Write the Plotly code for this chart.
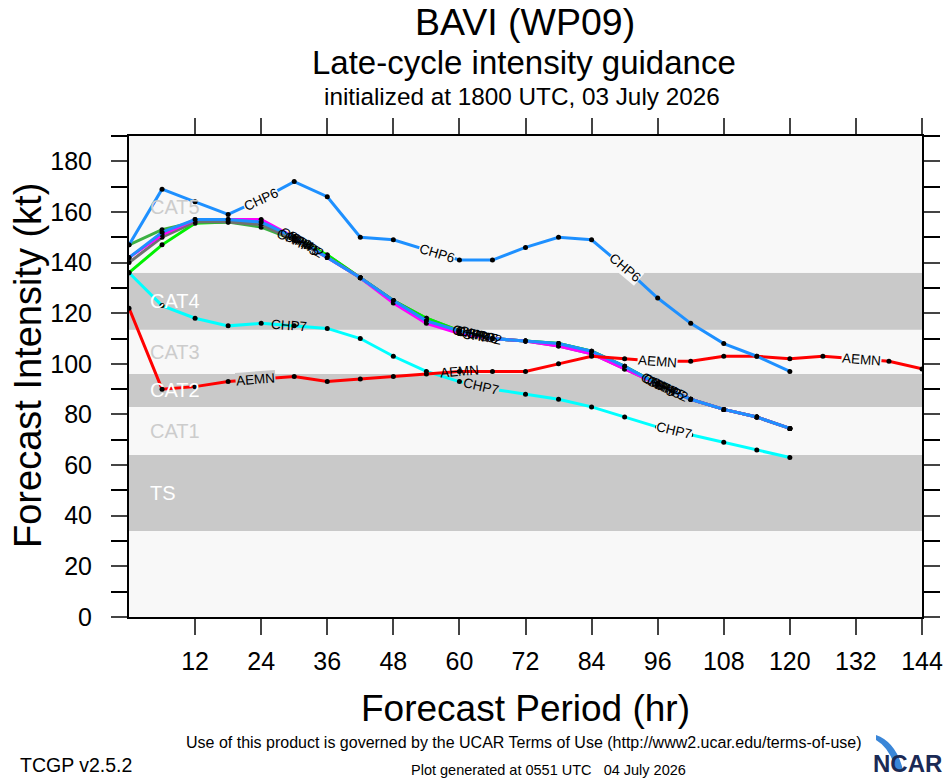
import numpy as np
import plotly.graph_objects as go

# ---------------- data ----------------
hours = list(range(0, 145, 6))           # forecast hours 0..144
hours120 = hours[:21]                     # 0..120

chp6 = [147, 169, 164, 159, 165, 172, 166, 150, 149, 145, 141, 141, 146, 150, 149, 138, 126, 116, 108, 103, 97]
chp7 = [136, 123, 118, 115, 116, 115, 114, 110, 103, 97, 93, 90, 88, 86, 83, 79, 75, 72, 69, 66, 63]
aemn = [122, 90, 91, 93, 94, 95, 93, 94, 95, 96, 97, 97, 97, 100, 103, 102, 101, 101, 103, 103, 102, 103, 102, 101, 98]

clus_lime = [136, 147, 155.5, 156, 156, 150, 143, 134, 125, 118, 113, 110, 109, 108, 105, 99, 92, 86, 82, 79, 74.5]
clus_gray = [140, 150, 156, 156, 155, 149, 142, 134, 125, 117, 113, 110, 109, 107, 104, 98, 92, 86, 82, 79, 74.5]
clus_mag = [142, 151, 157, 157, 157, 150, 142, 134, 124, 116, 112, 110, 109, 107, 104, 98, 92, 86, 82, 79, 74.5]
clus_dgrn = [147, 153, 156, 156, 154, 149, 143, 134, 125, 118, 113, 110, 109, 108, 105, 99, 92, 86, 82, 79, 74.5]
clus_blue = [142, 152, 157, 157, 156, 150, 142, 134, 125, 117, 113, 110, 109, 108, 105, 99, 92, 86, 82, 79, 74.5]

band_names = ["TS", "CAT1", "CAT2", "CAT3", "CAT4", "CAT5"]
band_lo = [34, 64, 83, 96, 113.5, 136]
band_hi = [64, 83, 96, 113.5, 136, 190]
band_dark = [True, False, True, False, True, False]
band_label_y = [49, 73.5, 89.5, 104.5, 125, 162]

x_ticks = list(range(12, 145, 12))
y_range = [0, 190]
x_range = [0, 144]

# ---------------- geometry ----------------
W, H = 946, 780
ML, MR, MT, MB = 129, 24, 136, 163
PW, PH = W - ML - MR, H - MT - MB
LIGHT = "#f8f8f8"
GRAY = "#c9c9c9"
FONT = "Liberation Sans, Arial, Helvetica, sans-serif"


def px(xp, yp):
    """pixel position -> paper coords (layout decoration only)"""
    return (xp - ML) / PW, (H - MB - yp) / PH


def band_color(v):
    edges = band_lo + band_hi
    if min(abs(v - e) for e in edges) < 1.8:
        return None
    for lo, hi, dk in zip(band_lo, band_hi, band_dark):
        if lo <= v < hi:
            return GRAY if dk else LIGHT
    return LIGHT


fig = go.Figure()

# category bands
for name, lo, hi, dk, ly in zip(band_names, band_lo, band_hi, band_dark, band_label_y):
    fig.add_shape(type="rect", xref="paper", yref="y", x0=0, x1=1, y0=lo, y1=hi,
                  fillcolor=GRAY if dk else LIGHT, line_width=0, layer="below")
    fig.add_annotation(x=3.5, y=ly, xref="x", yref="y", text=name, showarrow=False, xanchor="left",
                       font=dict(family=FONT, size=20, color="white" if dk else "#cccccc"))

series = [
    ("CHP8", hours120, clus_dgrn, "#3cb043", [30, 62, 96], 0.0, False),
    ("CHP4", hours120, clus_lime, "#00f000", [30, 62, 96], 0.6, False),
    ("CHP3", hours120, clus_gray, "#707070", [30, 62, 96], 1.2, False),
    ("CHP5", hours120, clus_mag, "#ff00ff", [30, 62, 96], 1.8, False),
    ("CHP2", hours120, clus_blue, "#1e90ff", [30, 62, 96], 2.4, False),
    ("CHP7", hours120, chp7, "#00ffff", [29, 64, 99], 0.0, True),
    ("AEMN", hours, aemn, "#ff0000", [23, 60, 96, 133], 0.0, True),
    ("CHP6", hours120, chp6, "#1e90ff", [24, 56, 90], 0.0, True),
]

sx = PW / (x_range[1] - x_range[0])
sy = PH / (y_range[1] - y_range[0])

for name, xs, ys, col, lab_h, off, bg in series:
    fig.add_trace(go.Scatter(x=xs, y=ys, mode="lines+markers", name=name,
                             line=dict(color=col, width=3),
                             marker=dict(color="black", size=5),
                             showlegend=False, hoverinfo="skip"))
    xa = np.array(xs, float)
    ya = np.array(ys, float)
    for h in lab_h:
        hh = h + off
        v = float(np.interp(hh, xa, ya))
        i = int(np.clip(np.searchsorted(xa, hh) - 1, 0, len(xa) - 2))
        dy = (ya[i + 1] - ya[i]) * sy
        dx = (xa[i + 1] - xa[i]) * sx
        ang = -np.degrees(np.arctan2(dy, dx))
        fig.add_annotation(x=hh, y=v, xref="x", yref="y", text=name, showarrow=False,
                           textangle=ang, font=dict(family=FONT, size=13.5, color="black"),
                           bgcolor=band_color(v) if bg else None, borderpad=0)

# titles and footer
def ann(xp, yp, text, size, xanchor="center", color="black", family=FONT, angle=0):
    x, y = px(xp, yp)
    fig.add_annotation(x=x, y=y, xref="paper", yref="paper", text=text, showarrow=False,
                       xanchor=xanchor, yanchor="middle", textangle=angle,
                       font=dict(family=family, size=size, color=color))

ann(525, 22, "BAVI (WP09)", 37.5)
ann(524, 62, "Late-cycle intensity guidance", 33)
ann(522, 97, "initialized at 1800 UTC, 03 July 2026", 24.3)
ann(28, 366, "Forecast Intensity (kt)", 38, angle=-90)
ann(525, 708, "Forecast Period (hr)", 37)
ann(524, 742, "Use of this product is governed by the UCAR Terms of Use (http://www2.ucar.edu/terms-of-use)", 16)
ann(18, 765, "TCGP v2.5.2", 19.5, xanchor="left")
ann(548, 770, "Plot generated at 0551 UTC &nbsp; 04 July 2026", 14.5)
ann(944, 763, "<b>NCAR</b>", 24, xanchor="right", color="#1b2a55")

# NCAR swoosh
fig.add_shape(type="path", xref="paper", yref="paper",
              path=f"M {px(876,735)[0]} {px(876,735)[1]} Q {px(896,742)[0]} {px(896,742)[1]} {px(903,770)[0]} {px(903,770)[1]} "
                   f"L {px(896,770)[0]} {px(896,770)[1]} Q {px(890,748)[0]} {px(890,748)[1]} {px(876,740)[0]} {px(876,740)[1]} Z",
              fillcolor="#3a86d8", line_width=0)

fig.update_layout(
    width=W, height=H, margin=dict(l=ML, r=MR, t=MT, b=MB, pad=0, autoexpand=False),
    paper_bgcolor="white", plot_bgcolor=LIGHT,
    font=dict(family=FONT, color="black"),
    xaxis=dict(range=x_range, tickvals=x_ticks, ticks="outside", ticklen=16, tickwidth=2,
               showline=True, linecolor="black", linewidth=2, mirror="ticks", automargin=False,
               showgrid=False, zeroline=False, tickfont=dict(size=25), ticklabelstandoff=5),
    yaxis=dict(range=y_range, dtick=20, tick0=0, ticks="outside", ticklen=16, tickwidth=2,
               showline=True, linecolor="black", linewidth=2, mirror="ticks", automargin=False,
               showgrid=False, zeroline=False, tickfont=dict(size=25), ticklabelstandoff=14,
               minor=dict(dtick=10, ticks="outside", ticklen=16, tickwidth=2, tickcolor="black")),
)

fig.write_html("out.html", config={"displayModeBar": False},
               post_script="document.body.style.margin='0';")
